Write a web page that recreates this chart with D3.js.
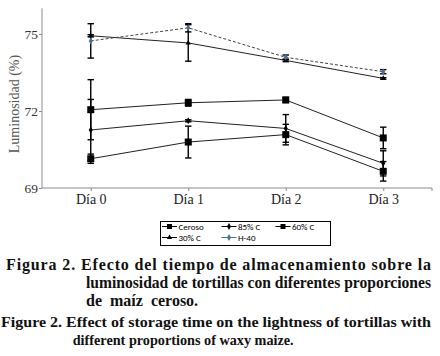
<!DOCTYPE html>
<html><head><meta charset="utf-8">
<script src="https://cdn.jsdelivr.net/npm/d3@7"></script>
<style>html,body{margin:0;padding:0;background:#fff;}svg{display:block;}</style>
</head><body>
<script>
const days = ["Día 0", "Día 1", "Día 2", "Día 3"];
const yTicks = [69, 72, 75];
const ceroso = [72.05, 72.32, 72.43, 70.95];
const ceroso_err = [1.17, 0.13, 0.10, 0.42];
const c85 = [71.26, 71.62, 71.32, 69.96];
const c85_err = [1.19, 0.04, 0.54, 0.49];
const c60 = [70.14, 70.79, 71.08, 69.65];
const c60_err = [0.18, 0.62, 0.40, 0.38];
const c30 = [74.93, 74.65, 73.97, 73.27];
const c30_err = [0.04, 0.71, 0.05, 0.03];
const h40 = [74.73, 75.24, 74.09, 73.53];
const h40_err = [0.67, 0.16, 0.09, 0.08];
const seriesNames = ["Ceroso", "85% C", "60% C", "30% C", "H-40"];
const captionES = ["Figura 2. Efecto del tiempo de almacenamiento sobre la",
  "luminosidad de tortillas con diferentes proporciones",
  "de maíz ceroso."];
const captionEN = ["Figure 2. Effect of storage time on the lightness of tortillas with",
  "different proportions of waxy maize."];

const series = [
  {name: seriesNames[0], vals: ceroso, err: ceroso_err, marker: "square", dash: null, mcolor: "#000"},
  {name: seriesNames[1], vals: c85, err: c85_err, marker: "diamond", dash: null, mcolor: "#000"},
  {name: seriesNames[2], vals: c60, err: c60_err, marker: "square", dash: null, mcolor: "#000"},
  {name: seriesNames[3], vals: c30, err: c30_err, marker: "triangle", dash: null, mcolor: "#000"},
  {name: seriesNames[4], vals: h40, err: h40_err, marker: "diamond", dash: "3,2", mcolor: "#4a6f9c"}
];

const SERIF = '"Liberation Serif", "Times New Roman", serif';
const SANS = 'Carlito, "Liberation Sans", sans-serif';
const W = 440, H = 356;
const svg = d3.select("body").append("svg").attr("width", W).attr("height", H);

const x = d3.scalePoint().domain(days).range([42, 432]).padding(0.5);
const y = d3.scaleLinear().domain([69, 76]).range([188, 8.3]);

// axes
const yAx = svg.append("g").attr("transform", "translate(42,0)")
  .call(d3.axisLeft(y).tickValues(yTicks).tickSize(3).tickFormat(d3.format("d")));
yAx.select(".domain").attr("stroke", "#8c8c8c").attr("d", `M0,${y(76)}V${y(69)}`);
yAx.selectAll(".tick line").attr("stroke", "#8c8c8c");
yAx.selectAll(".tick text").style("font-family", SERIF).style("font-size", "13.5px").attr("fill", "#333").attr("x", -4);

const xAx = svg.append("g").attr("transform", "translate(0,188)")
  .call(d3.axisBottom(x).tickSize(3).tickPadding(3));
xAx.select(".domain").attr("stroke", "#8c8c8c").attr("d", "M42,0H432V3");
xAx.selectAll(".tick line").attr("stroke", "#8c8c8c");
xAx.selectAll(".tick text").style("font-family", SERIF).style("font-size", "14px").attr("fill", "#222");

svg.append("text").attr("transform", "translate(19,104) rotate(-90)")
  .attr("text-anchor", "middle").style("font-family", SERIF).style("font-size", "14px")
  .attr("fill", "#555").text("Luminosidad (%)");

const line = d3.line().x((d, i) => x(days[i])).y(d => y(d));

function marker(g, type, cx, cy, color) {
  if (type === "square") {
    g.append("rect").attr("x", cx - 3.5).attr("y", cy - 3.5).attr("width", 7).attr("height", 7).attr("fill", "#000");
  } else if (type === "diamond") {
    g.append("path").attr("d", d3.symbol(d3.symbolDiamond, 14)()).attr("transform", `translate(${cx},${cy})`).attr("fill", color);
  } else {
    g.append("path").attr("d", d3.symbol(d3.symbolTriangle, 12)()).attr("transform", `translate(${cx},${cy})`).attr("fill", color);
  }
}

// lines
series.forEach(s => {
  svg.append("path").datum(s.vals).attr("d", line).attr("fill", "none")
    .attr("stroke", s.dash ? "#444" : "#222").attr("stroke-width", 1)
    .attr("stroke-dasharray", s.dash);
});
// error bars
series.forEach(s => {
  const g = svg.append("g").attr("stroke", "#000").attr("stroke-width", 1.4);
  s.vals.forEach((v, i) => {
    const cx = x(days[i]);
    const y1 = y(v + s.err[i]), y2 = y(v - s.err[i]);
    g.append("line").attr("x1", cx).attr("x2", cx).attr("y1", y1).attr("y2", y2);
    g.append("line").attr("x1", cx - 3.2).attr("x2", cx + 3.2).attr("y1", y1).attr("y2", y1);
    g.append("line").attr("x1", cx - 3.2).attr("x2", cx + 3.2).attr("y1", y2).attr("y2", y2);
  });
});
// markers
series.forEach(s => {
  const g = svg.append("g");
  s.vals.forEach((v, i) => marker(g, s.marker, x(days[i]), y(v), s.mcolor));
});

// legend
const lg = svg.append("g");
lg.append("rect").attr("x", 160.5).attr("y", 221.5).attr("width", 170).attr("height", 24)
  .attr("fill", "#fff").attr("stroke", "#000").attr("stroke-width", 1);
const lpos = [[162, 226.5], [221.5, 226.5], [275.5, 226.5], [162, 237.5], [221.5, 237.5]];
series.forEach((s, k) => {
  const [lx, ly] = lpos[k];
  lg.append("line").attr("x1", lx).attr("x2", lx + 15).attr("y1", ly).attr("y2", ly)
    .attr("stroke", s.name === "H-40" ? "#4a6f9c" : "#000").attr("stroke-width", 1);
  if (s.marker === "square") lg.append("rect").attr("x", lx + 5).attr("y", ly - 2.5).attr("width", 5).attr("height", 5).attr("fill", "#000");
  else marker(lg, s.marker, lx + 7.5, ly, s.mcolor);
  lg.append("text").attr("x", lx + 16.5).attr("y", ly + 3.2)
    .style("font-family", SANS).style("font-size", "9px").attr("fill", "#000").text(s.name);
});

// captions
const capES = [[6, 270, 425], [86, 288, 345], [86, 305.5, 134]];
captionES.forEach((t, i) => {
  const tx = svg.append("text").attr("x", capES[i][0]).attr("y", capES[i][1])
    .style("font-family", SERIF).style("font-weight", "bold").style("font-size", "16px").attr("fill", "#111")
    .text(t);
  if (i === 2) tx.style("word-spacing", "4px");
  else tx.attr("textLength", capES[i][2]).attr("lengthAdjust", i === 1 ? "spacingAndGlyphs" : "spacing");
});
const capEN = [[1, 327, 430], [72.7, 345, 221]];
captionEN.forEach((t, i) => {
  svg.append("text").attr("x", capEN[i][0]).attr("y", capEN[i][1])
    .style("font-family", SERIF).style("font-weight", "bold").style("font-size", "15.5px").attr("fill", "#111")
    .attr("textLength", capEN[i][2]).attr("lengthAdjust", "spacingAndGlyphs").text(t);
});
</script>
</body></html>
